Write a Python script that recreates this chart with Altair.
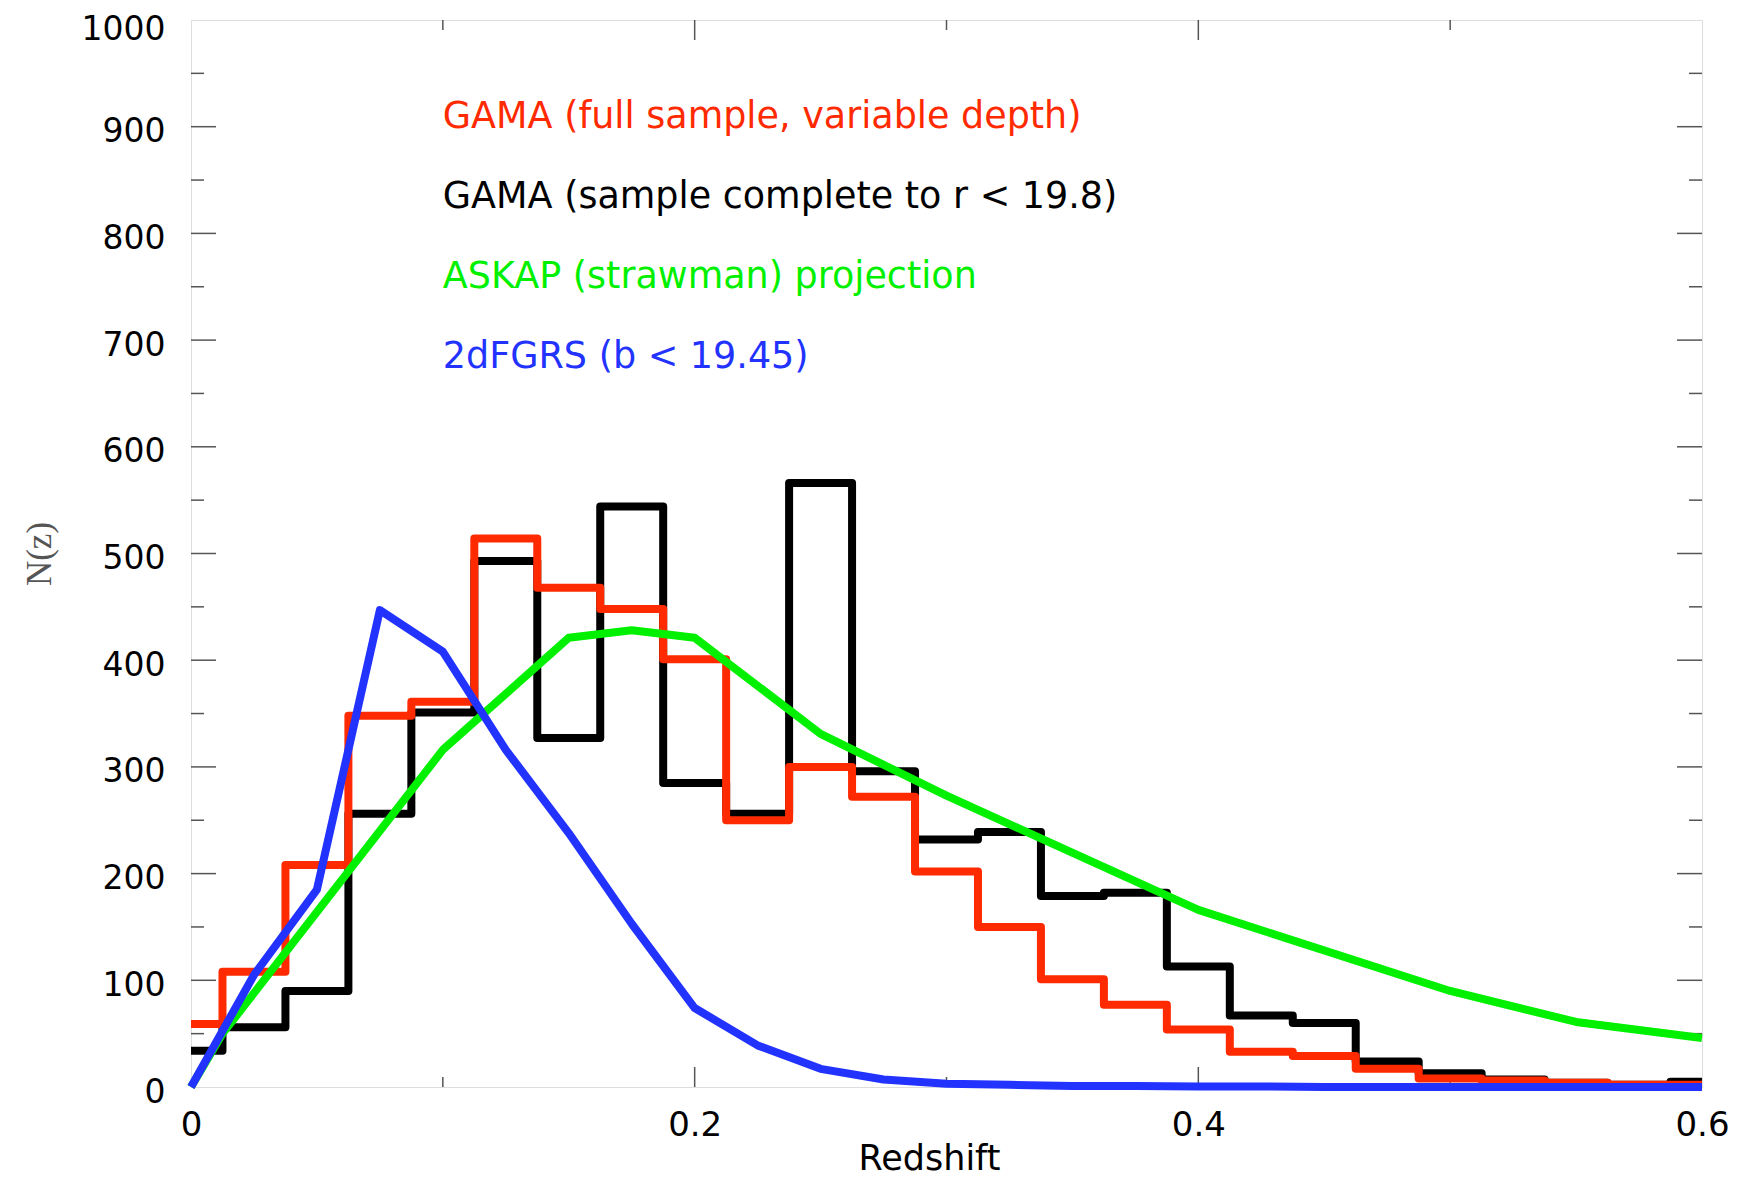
import altair as alt
import pandas as pd

# ---------------- data ----------------
z_bins = [round(0.025 * i, 4) for i in range(25)]
gama_complete = [34, 56, 90, 256, 351, 493, 327, 544, 285, 256, 566, 296, 232,
                 239, 179, 182, 113, 67, 60, 24, 13, 7, 4, 2, 5]
gama_full = [59, 108, 208, 348, 361, 514, 468, 448, 401, 250, 300, 272, 202,
             150, 101, 77, 54, 33, 29, 17, 8, 6, 4, 2, 2]

dfgrs_z = z_bins
dfgrs = [0, 105, 185, 447, 408, 316, 238, 153, 74, 39, 17, 7, 3, 2, 1, 1,
         0.5, 0.5, 0, 0, 0, 0, 0, 0, 0]

askap_z = [0, 0.0125, 0.1, 0.15, 0.175, 0.2, 0.25, 0.3, 0.4, 0.5, 0.55, 0.6]
askap = [0, 50, 316, 421, 428, 421, 331, 273, 166, 90, 61, 46]

legend_text = ["GAMA (full sample, variable depth)",
               "GAMA (sample complete to r < 19.8)",
               "ASKAP (strawman) projection",
               "2dFGRS (b < 19.45)"]
legend_colors = ["#FF2A00", "#000000", "#00F000", "#2232FF"]
legend_y = [899, 824, 749, 674]
legend_z = [0.1, 0.1, 0.1, 0.1]

x_label_values = [0, 0.2, 0.4, 0.6]
x_major = [0.2, 0.4]
x_minor = [0.1, 0.3, 0.5]
y_label_values = [0, 100, 200, 300, 400, 500, 600, 700, 800, 900, 1000]
y_major = [100, 200, 300, 400, 500, 600, 700, 800, 900]
y_minor = [50, 150, 250, 350, 450, 550, 650, 750, 850, 950]

# ---------------- layout ----------------
W, H = 1511, 1067
XMAJ, XMIN = 20, 10
YMAJ, YMIN = 25, 13
TICK_COLOR = "#555555"
FONT = "DejaVu Sans"
LW = 8

xs = alt.Scale(domain=[0, 0.6], nice=False, zero=False)
ys = alt.Scale(domain=[0, 1000], nice=False, zero=False)

df_black = pd.DataFrame({"z": z_bins, "n": gama_complete})
df_red = pd.DataFrame({"z": z_bins, "n": gama_full})
df_blue = pd.DataFrame({"z": dfgrs_z, "n": dfgrs})
df_green = pd.DataFrame({"z": askap_z, "n": askap})
df_text = pd.DataFrame({"z": legend_z, "n": legend_y, "t": legend_text, "c": legend_colors})

x_axis = alt.Axis(
    values=x_label_values, labelExpr="datum.value == 0 ? '0' : format(datum.value, '.1f')",
    title="Redshift", titleFont=FONT, titleFontSize=35, titleFontWeight="normal",
    titleColor="black", titleX=738, titleY=71, titleBaseline="middle",
    titleAlign="center",
    labelFont=FONT, labelFontSize=34, labelColor="black", labelPadding=21,
    labelFlush=False, labelOverlap=False, ticks=False, tickSize=0, domain=False, grid=False,
)
y_axis = alt.Axis(
    values=y_label_values, format="d",
    title="N(z)", titleFont="Liberation Serif", titleFontSize=35, titleFontWeight="normal",
    titleColor="#555555", titleAngle=270, titleX=-152, titleY=H / 2, titleBaseline="middle",
    titleAlign="center",
    labelFont=FONT, labelFontSize=33, labelColor="black", labelPadding=26,
    labelOffset={"condition": {"test": "datum.value == 1000", "value": 9}, "value": 5},
    labelFlush=False, labelOverlap=False, ticks=False, tickSize=0, domain=False, grid=False,
)


def X():
    return alt.X("z:Q", scale=xs, axis=x_axis)


def Y():
    return alt.Y("n:Q", scale=ys, axis=y_axis)


black = alt.Chart(df_black).mark_line(
    interpolate="step", color="black", strokeWidth=LW, strokeJoin="round"
).encode(x=X(), y=Y())

red = alt.Chart(df_red).mark_line(
    interpolate="step", color="#FF2A00", strokeWidth=LW, strokeJoin="round"
).encode(x=X(), y=Y())

green = alt.Chart(df_green).mark_line(
    color="#00F000", strokeWidth=LW, strokeJoin="round"
).encode(x=X(), y=Y())

blue = alt.Chart(df_blue).mark_line(
    color="#2232FF", strokeWidth=LW, strokeJoin="round"
).encode(x=X(), y=Y())

text = alt.Chart(df_text).mark_text(
    align="left", baseline="alphabetic", font=FONT, fontSize=36.5
).encode(
    x=X(), y=Y(),
    text="t:N",
    color=alt.Color("c:N", scale=None),
)


def xticks(vals, length):
    d = pd.DataFrame({"z": vals})
    bottom = alt.Chart(d).mark_rule(color=TICK_COLOR, strokeWidth=1.5).encode(
        x=X(), y=alt.value(H), y2=alt.value(H - length))
    top = alt.Chart(d).mark_rule(color=TICK_COLOR, strokeWidth=1.5).encode(
        x=X(), y=alt.value(0), y2=alt.value(length))
    return [bottom, top]


def yticks(vals, length):
    d = pd.DataFrame({"n": vals})
    left = alt.Chart(d).mark_rule(color=TICK_COLOR, strokeWidth=1.5).encode(
        y=Y(), x=alt.value(0), x2=alt.value(length))
    right = alt.Chart(d).mark_rule(color=TICK_COLOR, strokeWidth=1.5).encode(
        y=Y(), x=alt.value(W), x2=alt.value(W - length))
    return [left, right]


tick_layers = xticks(x_major, XMAJ) + xticks(x_minor, XMIN) + yticks(y_major, YMAJ) + yticks(y_minor, YMIN)

chart = alt.layer(
    black, *tick_layers, red, green, blue, text
).properties(
    width=W, height=H,
    autosize=alt.AutoSizeParams(type="none"),
    padding={"left": 183, "top": 12, "right": 32, "bottom": 90},
).configure_view(
    stroke="#444444", strokeWidth=1.5
).configure(background="white")

chart.save("out.html", embed_options={"renderer": "svg", "actions": False})
